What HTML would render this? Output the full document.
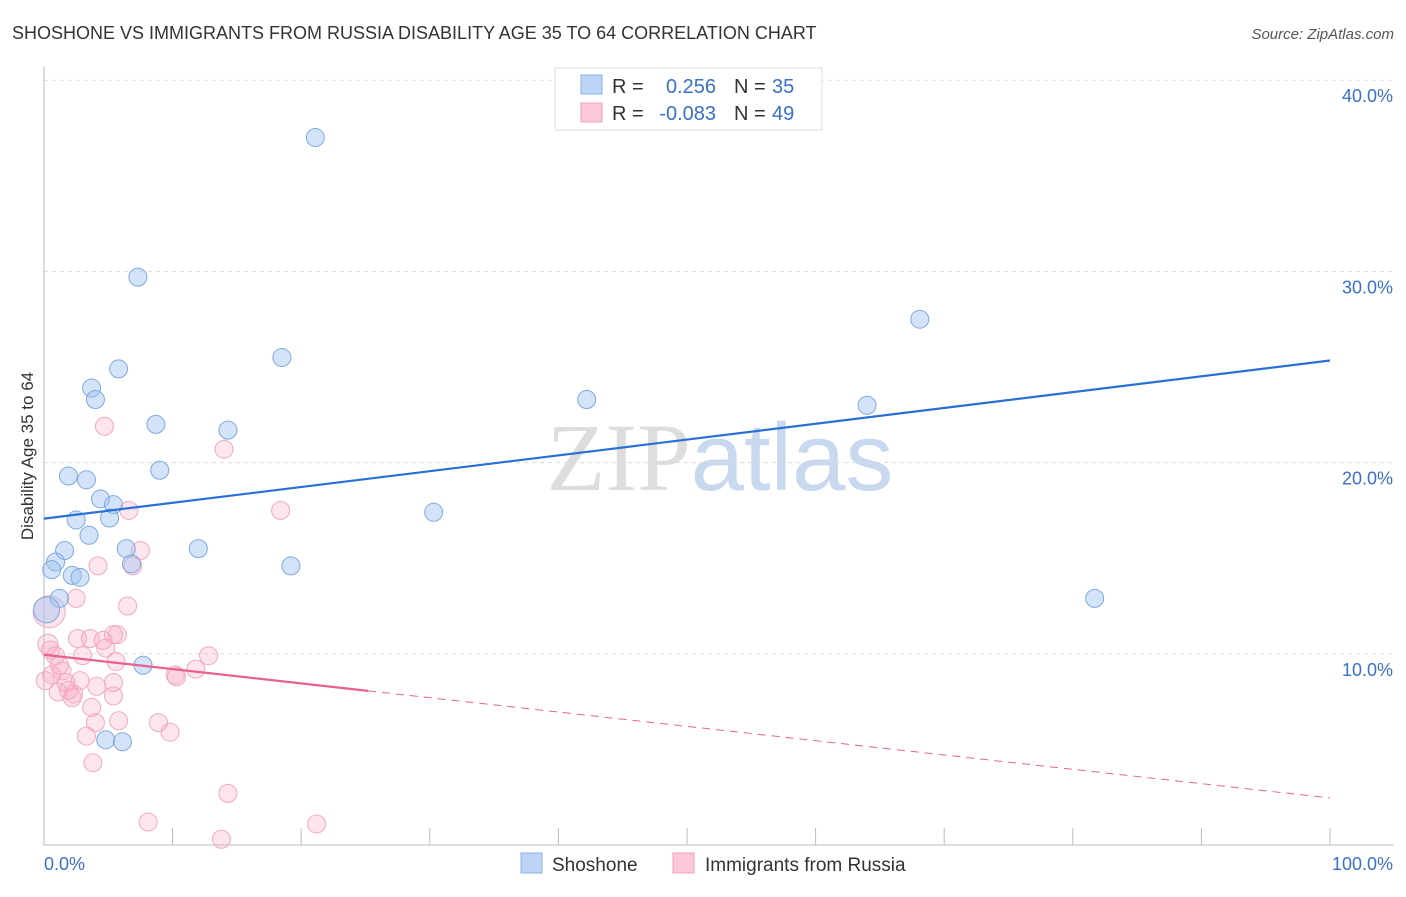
<!DOCTYPE html>
<html><head><meta charset="utf-8"><style>
body{margin:0;background:#fff;font-family:"Liberation Sans",sans-serif;}
svg text{font-family:"Liberation Sans",sans-serif;}
</style></head><body>
<svg id="chart" width="1406" height="892" xmlns="http://www.w3.org/2000/svg">
<text x="12" y="39" font-size="18" fill="#333">SHOSHONE VS IMMIGRANTS FROM RUSSIA DISABILITY AGE 35 TO 64 CORRELATION CHART</text>
<text x="1394" y="39" font-size="15" fill="#555" text-anchor="end" font-style="italic">Source: ZipAtlas.com</text>
<text x="720" y="490" font-size="96" text-anchor="middle"><tspan fill="#ddd" font-family="Liberation Serif">ZIP</tspan><tspan fill="#c8d8ee">atlas</tspan></text>
<g id="grid"></g>
<g id="axes"></g>
<g id="marks"></g>
<text transform="translate(33,456) rotate(-90)" font-size="17" fill="#333" text-anchor="middle">Disability Age 35 to 64</text>
<text x="44" y="870" font-size="18" fill="#3a70c8">0.0%</text>
<text x="1393" y="870" font-size="18" fill="#3a70c8" text-anchor="end">100.0%</text>
<g>
<rect x="555" y="68" width="267" height="62" fill="#fff" stroke="#ddd"/>
<rect x="581" y="75" width="21" height="19" fill="#bcd4f5" stroke="#8ab0e6"/>
<rect x="581" y="103" width="21" height="19" fill="#fcc8d8" stroke="#f0a0b8"/>
<text x="612" y="93" font-size="20" fill="#333">R =</text>
<text x="716" y="93" font-size="20" fill="#3a70c8" text-anchor="end">0.256</text>
<text x="734" y="93" font-size="20" fill="#333">N =</text>
<text x="772" y="93" font-size="20" fill="#3a70c8">35</text>
<text x="612" y="120" font-size="20" fill="#333">R =</text>
<text x="716" y="120" font-size="20" fill="#3a70c8" text-anchor="end">-0.083</text>
<text x="734" y="120" font-size="20" fill="#333">N =</text>
<text x="772" y="120" font-size="20" fill="#3a70c8">49</text>
</g>
<g>
<rect x="521" y="853" width="21" height="20" fill="#bcd4f5" stroke="#8ab0e6"/>
<text x="552" y="871" font-size="19" fill="#333">Shoshone</text>
<rect x="673" y="853" width="21" height="20" fill="#fcc8d8" stroke="#f0a0b8"/>
<text x="705" y="871" font-size="19" fill="#333">Immigrants from Russia</text>
</g>
</svg>
<script>
const yTicks=[10,20,30,40];
const yTickLabels=["10.0%","20.0%","30.0%","40.0%"];
const xTicks=[0,10,20,30,40,50,60,70,80,90,100];
const blueX=[21.1,7.3,18.5,5.8,3.7,4.0,8.7,14.3,9.0,1.9,3.3,4.4,5.4,5.1,2.5,3.5,1.6,6.4,12.0,0.9,0.6,2.2,2.8,6.8,19.2,1.2,0.2,7.7,4.8,6.1,42.2,30.3,64.0,68.1,81.7];
const blueY=[37.0,29.7,25.5,24.9,23.9,23.3,22.0,21.7,19.6,19.3,19.1,18.1,17.8,17.1,17.0,16.2,15.4,15.5,15.5,14.8,14.4,14.1,14.0,14.7,14.6,12.9,12.3,9.4,5.5,5.4,23.3,17.4,23.0,27.5,12.9];
const blueR=[9,9,9,9,9,9,9,9,9,9,9,9,9,9,9,9,9,9,9,9,9,9,9,9,9,9,13,9,9,9,9,9,9,9,9];
const pinkX=[4.7,14.0,18.4,6.6,7.5,4.2,6.9,2.5,6.5,0.4,0.3,2.6,3.6,4.6,5.7,5.4,4.8,3.0,0.9,1.4,0.6,5.6,12.8,11.8,10.2,10.3,4.1,5.4,2.8,1.7,1.9,2.3,1.1,2.2,5.4,3.7,4.0,5.8,8.9,9.8,3.3,3.8,14.3,8.1,21.2,13.8,0.1,1.2,0.5];
const pinkY=[21.9,20.7,17.5,17.5,15.4,14.6,14.6,12.9,12.5,12.2,10.5,10.8,10.8,10.7,11.0,11.0,10.3,9.9,9.9,9.1,8.9,9.6,9.9,9.2,8.9,8.8,8.3,8.5,8.6,8.5,8.1,7.9,8.0,7.7,7.8,7.2,6.4,6.5,6.4,5.9,5.7,4.3,2.7,1.2,1.1,0.3,8.6,9.4,10.2];
const pinkR=[9,9,9,9,9,9,9,9,9,16,10,9,9,9,9,9,9,9,9,9,9,9,9,9,9,9,9,9,9,9,9,9,9,9,9,9,9,9,9,9,9,9,9,9,9,9,9,9,9];
const blueTrend=[17.07,25.34];
const pinkTrend=[9.95,2.46];
const pinkSolidEnd=25.2;
const X0=44,X1=1330,Y0=845,PXPER=19.12;
function sx(v){return X0+(X1-X0)*v/100;}
function sy(v){return Y0-v*PXPER;}
const NS="http://www.w3.org/2000/svg";
function mk(tag,attrs,parent){const e=document.createElementNS(NS,tag);for(const k in attrs)e.setAttribute(k,attrs[k]);document.getElementById(parent).appendChild(e);return e;}
yTicks.forEach((t,i)=>{
 const l=mk('line',{x1:X0,x2:1394,y1:sy(t),y2:sy(t),stroke:'#ddd','stroke-dasharray':'4,4'},'grid');
 
 
 const tx=mk('text',{x:1393,y:sy(t)+22,'font-size':18,fill:'#3a70c8','text-anchor':'end'},'grid');
 tx.textContent=yTickLabels[i];
 
 
});
const ya=mk('line',{x1:X0,x2:X0,y1:66,y2:Y0,stroke:'#bbb'},'axes');


const xa=mk('line',{x1:X0,x2:1394,y1:Y0,y2:Y0,stroke:'#bbb'},'axes');


xTicks.forEach(t=>{
 const l=mk('line',{x1:sx(t),x2:sx(t),y1:828,y2:Y0,stroke:'#bbb'},'axes');
 
 
});
pinkX.forEach((v,i)=>{
 const c=mk('circle',{cx:sx(v),cy:sy(pinkY[i]),r:pinkR[i],fill:'rgba(248,170,195,0.3)',stroke:'#f2a8c0','stroke-width':1},'marks');
 
 
});
blueX.forEach((v,i)=>{
 const c=mk('circle',{cx:sx(v),cy:sy(blueY[i]),r:blueR[i],fill:'rgba(160,195,240,0.45)',stroke:'#7fa8e0','stroke-width':1},'marks');
 
 
});
const bt=mk('line',{x1:sx(0),y1:sy(blueTrend[0]),x2:sx(100),y2:sy(blueTrend[1]),stroke:'#2a6fd6','stroke-width':2.2},'marks');


const pAt=x=>pinkTrend[0]+(pinkTrend[1]-pinkTrend[0])*x/100;
const ps=mk('line',{x1:sx(0),y1:sy(pinkTrend[0]),x2:sx(pinkSolidEnd),y2:sy(pAt(pinkSolidEnd)),stroke:'#e8628f','stroke-width':2.2},'marks');


const pd=mk('line',{x1:sx(pinkSolidEnd),y1:sy(pAt(pinkSolidEnd)),x2:sx(100),y2:sy(pinkTrend[1]),stroke:'#e8628f','stroke-width':1,'stroke-dasharray':'8,6'},'marks');


</script>
</body></html>
